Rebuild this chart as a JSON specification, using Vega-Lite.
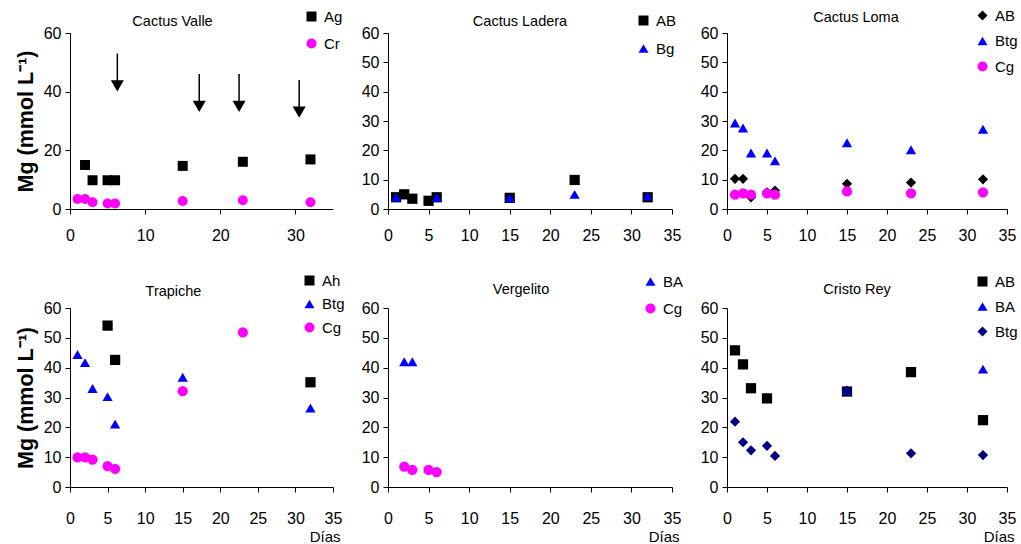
{
  "$schema": "https://vega.github.io/schema/vega-lite/v6.json",
  "background": "white",
  "padding": {"left": 15, "top": 8, "right": 5, "bottom": 0},
  "config": {
    "font": "Liberation Sans",
    "view": {"stroke": null},
    "axis": {"grid": false, "domainColor": "black", "tickColor": "black", "labelColor": "black", "labelFont": "Liberation Sans", "labelFontSize": 16, "tickSize": 5, "titleColor": "black", "titleFont": "Liberation Sans", "labelFlush": false, "labelOverlap": false},
    "axisY": {"labelPadding": 4},
    "title": {"font": "Liberation Sans", "fontSize": 14.5, "fontWeight": "normal", "color": "black", "frame": "group"},
    "legend": {"labelFont": "Liberation Sans", "labelFontSize": 15, "labelColor": "black", "padding": 0, "labelOffset": 5, "symbolSize": 100, "symbolStrokeWidth": 0}
  },
  "datasets": {
    "cv": [
      {"day": 2, "mg": 15.0, "series": "Ag"}, {"day": 3, "mg": 9.8, "series": "Ag"}, {"day": 5, "mg": 9.8, "series": "Ag"}, {"day": 6, "mg": 9.8, "series": "Ag"}, {"day": 15, "mg": 14.7, "series": "Ag"}, {"day": 23, "mg": 16.1, "series": "Ag"}, {"day": 32, "mg": 16.9, "series": "Ag"},
      {"day": 1, "mg": 3.4, "series": "Cr"}, {"day": 2, "mg": 3.4, "series": "Cr"}, {"day": 3, "mg": 2.3, "series": "Cr"}, {"day": 5, "mg": 1.9, "series": "Cr"}, {"day": 6, "mg": 1.9, "series": "Cr"}, {"day": 15, "mg": 2.7, "series": "Cr"}, {"day": 23, "mg": 3.0, "series": "Cr"}, {"day": 32, "mg": 2.3, "series": "Cr"}
    ],
    "arrows": [
      {"day": 6.3, "top": 53, "head": 42}, {"day": 17.2, "top": 46, "head": 35}, {"day": 22.5, "top": 46, "head": 35}, {"day": 30.5, "top": 44, "head": 33}
    ],
    "cl": [
      {"day": 1, "mg": 4.0, "series": "AB"}, {"day": 2, "mg": 5.0, "series": "AB"}, {"day": 3, "mg": 3.5, "series": "AB"}, {"day": 5, "mg": 2.8, "series": "AB"}, {"day": 6, "mg": 4.0, "series": "AB"}, {"day": 15, "mg": 3.8, "series": "AB"}, {"day": 23, "mg": 9.9, "series": "AB"}, {"day": 32, "mg": 4.0, "series": "AB"},
      {"day": 1, "mg": 4.0, "series": "Bg"}, {"day": 6, "mg": 4.0, "series": "Bg"}, {"day": 15, "mg": 3.8, "series": "Bg"}, {"day": 23, "mg": 5.0, "series": "Bg"}, {"day": 32, "mg": 4.4, "series": "Bg"}
    ],
    "clo": [
      {"day": 1, "mg": 10.3, "series": "AB"}, {"day": 2, "mg": 10.3, "series": "AB"}, {"day": 3, "mg": 4.0, "series": "AB"}, {"day": 5, "mg": 5.7, "series": "AB"}, {"day": 6, "mg": 6.3, "series": "AB"}, {"day": 15, "mg": 8.6, "series": "AB"}, {"day": 23, "mg": 9.0, "series": "AB"}, {"day": 32, "mg": 10.1, "series": "AB"},
      {"day": 1, "mg": 29.3, "series": "Btg"}, {"day": 2, "mg": 27.6, "series": "Btg"}, {"day": 3, "mg": 19.1, "series": "Btg"}, {"day": 5, "mg": 19.1, "series": "Btg"}, {"day": 6, "mg": 16.4, "series": "Btg"}, {"day": 15, "mg": 22.6, "series": "Btg"}, {"day": 23, "mg": 20.2, "series": "Btg"}, {"day": 32, "mg": 27.2, "series": "Btg"},
      {"day": 1, "mg": 4.9, "series": "Cg"}, {"day": 2, "mg": 5.3, "series": "Cg"}, {"day": 3, "mg": 4.9, "series": "Cg"}, {"day": 5, "mg": 5.3, "series": "Cg"}, {"day": 6, "mg": 4.9, "series": "Cg"}, {"day": 15, "mg": 6.0, "series": "Cg"}, {"day": 23, "mg": 5.3, "series": "Cg"}, {"day": 32, "mg": 5.7, "series": "Cg"}
    ],
    "tr": [
      {"day": 5, "mg": 54.1, "series": "Ah"}, {"day": 6, "mg": 42.6, "series": "Ah"}, {"day": 32, "mg": 35.1, "series": "Ah"},
      {"day": 1, "mg": 44.4, "series": "Btg"}, {"day": 2, "mg": 41.7, "series": "Btg"}, {"day": 3, "mg": 33.0, "series": "Btg"}, {"day": 5, "mg": 30.3, "series": "Btg"}, {"day": 6, "mg": 21.1, "series": "Btg"}, {"day": 15, "mg": 36.8, "series": "Btg"}, {"day": 32, "mg": 26.5, "series": "Btg"},
      {"day": 1, "mg": 9.9, "series": "Cg"}, {"day": 2, "mg": 9.9, "series": "Cg"}, {"day": 3, "mg": 9.2, "series": "Cg"}, {"day": 5, "mg": 7.0, "series": "Cg"}, {"day": 6, "mg": 6.1, "series": "Cg"}, {"day": 15, "mg": 32.1, "series": "Cg"}, {"day": 23, "mg": 51.8, "series": "Cg"}
    ],
    "ve": [
      {"day": 2, "mg": 42.0, "series": "BA"}, {"day": 3, "mg": 42.0, "series": "BA"},
      {"day": 2, "mg": 6.8, "series": "Cg"}, {"day": 3, "mg": 5.7, "series": "Cg"}, {"day": 5, "mg": 5.7, "series": "Cg"}, {"day": 6, "mg": 5.0, "series": "Cg"}
    ],
    "cr": [
      {"day": 1, "mg": 45.8, "series": "AB"}, {"day": 2, "mg": 41.1, "series": "AB"}, {"day": 3, "mg": 33.1, "series": "AB"}, {"day": 5, "mg": 29.7, "series": "AB"}, {"day": 15, "mg": 32.0, "series": "AB"}, {"day": 23, "mg": 38.5, "series": "AB"}, {"day": 32, "mg": 22.4, "series": "AB"},
      {"day": 15, "mg": 32.3, "series": "BA"}, {"day": 32, "mg": 39.5, "series": "BA"},
      {"day": 1, "mg": 21.9, "series": "Btg"}, {"day": 2, "mg": 15.0, "series": "Btg"}, {"day": 3, "mg": 12.3, "series": "Btg"}, {"day": 5, "mg": 13.8, "series": "Btg"}, {"day": 6, "mg": 10.4, "series": "Btg"}, {"day": 15, "mg": 32.3, "series": "Btg"}, {"day": 23, "mg": 11.3, "series": "Btg"}, {"day": 32, "mg": 10.7, "series": "Btg"}
    ]
  },
  "columns": 3,
  "align": "none",
  "bounds": "flush",
  "spacing": {"column": 55, "row": 99},
  "resolve": {
    "scale": {"color": "independent", "shape": "independent", "x": "independent", "y": "independent"},
    "legend": {"color": "independent", "shape": "independent"}
  },
  "concat": [
    {
      "width": 263, "height": 176,
      "title": {"text": "Cactus Valle", "dx": -29, "offset": -20},
      "layer": [
        {
          "data": {"name": "cv"},
          "mark": {"type": "point", "filled": true, "opacity": 1, "size": 100},
          "encoding": {
            "x": {"field": "day", "type": "quantitative", "scale": {"domain": [0, 35], "nice": false}, "axis": {"values": [0, 5, 10, 15, 20, 25, 30, 35], "title": null, "labelPadding": 13}},
            "y": {"field": "mg", "type": "quantitative", "scale": {"domain": [0, 60], "nice": false}, "axis": {"values": [0, 10, 20, 30, 40, 50, 60], "title": "Mg (mmol L⁻¹)", "titleFontSize": 21.5, "titleFontWeight": "bold", "titlePadding": 6}},
            "color": {"field": "series", "type": "nominal", "scale": {"domain": ["Ag", "Cr"], "range": ["#000000", "#ff00ff"]}, "legend": {"title": null, "orient": "none", "legendX": 234, "legendY": -24, "rowPadding": 11}},
            "shape": {"field": "series", "type": "nominal", "scale": {"domain": ["Ag", "Cr"], "range": ["square", "circle"]}, "legend": {"title": null, "orient": "none", "legendX": 234, "legendY": -24, "rowPadding": 11}}
          }
        },
        {
          "data": {"name": "arrows"},
          "mark": {"type": "rule", "color": "black", "strokeWidth": 1.5},
          "encoding": {
            "x": {"field": "day", "type": "quantitative", "scale": {"domain": [0, 35], "nice": false}},
            "y": {"field": "top", "type": "quantitative", "scale": {"domain": [0, 60], "nice": false}},
            "y2": {"field": "head"}
          }
        },
        {
          "data": {"name": "arrows"},
          "mark": {"type": "point", "shape": "triangle-down", "filled": true, "color": "black", "opacity": 1, "size": 170},
          "encoding": {
            "x": {"field": "day", "type": "quantitative", "scale": {"domain": [0, 35], "nice": false}},
            "y": {"field": "head", "type": "quantitative", "scale": {"domain": [0, 60], "nice": false}}
          }
        }
      ]
    },
    {
      "width": 284, "height": 176,
      "title": {"text": "Cactus Ladera", "dx": -10, "offset": -16},
      "data": {"name": "cl"},
      "mark": {"type": "point", "filled": true, "opacity": 1, "size": 105},
      "encoding": {
        "x": {"field": "day", "type": "quantitative", "scale": {"domain": [0, 35], "nice": false}, "axis": {"values": [0, 5, 10, 15, 20, 25, 30, 35], "title": null, "labelPadding": 13}},
        "y": {"field": "mg", "type": "quantitative", "scale": {"domain": [0, 60], "nice": false}, "axis": {"values": [0, 10, 20, 30, 40, 50, 60], "title": null}},
        "color": {"field": "series", "type": "nominal", "scale": {"domain": ["AB", "Bg"], "range": ["#000000", "#0000ff"]}, "legend": {"title": null, "orient": "none", "legendX": 248, "legendY": -20, "rowPadding": 12}},
        "shape": {"field": "series", "type": "nominal", "scale": {"domain": ["AB", "Bg"], "range": ["square", "triangle-up"]}, "legend": {"title": null, "orient": "none", "legendX": 248, "legendY": -20, "rowPadding": 12}}
      }
    },
    {
      "width": 280, "height": 176,
      "title": {"text": "Cactus Loma", "dx": -11, "offset": -17},
      "data": {"name": "clo"},
      "mark": {"type": "point", "filled": true, "opacity": 1, "size": 105},
      "encoding": {
        "x": {"field": "day", "type": "quantitative", "scale": {"domain": [0, 35], "nice": false}, "axis": {"values": [0, 5, 10, 15, 20, 25, 30, 35], "title": null, "labelPadding": 13}},
        "y": {"field": "mg", "type": "quantitative", "scale": {"domain": [0, 60], "nice": false}, "axis": {"values": [0, 10, 20, 30, 40, 50, 60], "title": null}},
        "color": {"field": "series", "type": "nominal", "scale": {"domain": ["AB", "Btg", "Cg"], "range": ["#000000", "#0000ff", "#ff00ff"]}, "legend": {"title": null, "orient": "none", "legendX": 248, "legendY": -25, "rowPadding": 9.5}},
        "shape": {"field": "series", "type": "nominal", "scale": {"domain": ["AB", "Btg", "Cg"], "range": ["diamond", "triangle-up", "circle"]}, "legend": {"title": null, "orient": "none", "legendX": 248, "legendY": -25, "rowPadding": 9.5}}
      }
    },
    {
      "width": 263, "height": 179,
      "title": {"text": "Trapiche", "dx": -28, "offset": -26},
      "data": {"name": "tr"},
      "mark": {"type": "point", "filled": true, "opacity": 1, "size": 105},
      "encoding": {
        "x": {"field": "day", "type": "quantitative", "scale": {"domain": [0, 35], "nice": false}, "axis": {"values": [0, 5, 10, 15, 20, 25, 30, 35], "labelPadding": 18, "title": "Días", "titleAnchor": "end", "titleAlign": "right", "titleX": 270, "titleFontSize": 15, "titleFontWeight": "normal", "titlePadding": 3}},
        "y": {"field": "mg", "type": "quantitative", "scale": {"domain": [0, 60], "nice": false}, "axis": {"values": [0, 10, 20, 30, 40, 50, 60], "title": "Mg (mmol L⁻¹)", "titleFontSize": 21.5, "titleFontWeight": "bold", "titlePadding": 6}},
        "color": {"field": "series", "type": "nominal", "scale": {"domain": ["Ah", "Btg", "Cg"], "range": ["#000000", "#0000ff", "#ff00ff"]}, "legend": {"title": null, "orient": "none", "legendX": 232, "legendY": -35, "rowPadding": 7.5}},
        "shape": {"field": "series", "type": "nominal", "scale": {"domain": ["Ah", "Btg", "Cg"], "range": ["square", "triangle-up", "circle"]}, "legend": {"title": null, "orient": "none", "legendX": 232, "legendY": -35, "rowPadding": 7.5}}
      }
    },
    {
      "width": 284, "height": 179,
      "title": {"text": "Vergelito", "dx": -9, "offset": -23},
      "data": {"name": "ve"},
      "mark": {"type": "point", "filled": true, "opacity": 1, "size": 105},
      "encoding": {
        "x": {"field": "day", "type": "quantitative", "scale": {"domain": [0, 35], "nice": false}, "axis": {"values": [0, 5, 10, 15, 20, 25, 30, 35], "labelPadding": 18, "title": "Días", "titleAnchor": "end", "titleAlign": "right", "titleX": 291, "titleFontSize": 15, "titleFontWeight": "normal", "titlePadding": 3}},
        "y": {"field": "mg", "type": "quantitative", "scale": {"domain": [0, 60], "nice": false}, "axis": {"values": [0, 10, 20, 30, 40, 50, 60], "title": null}},
        "color": {"field": "series", "type": "nominal", "scale": {"domain": ["BA", "Cg"], "range": ["#0000ff", "#ff00ff"]}, "legend": {"title": null, "orient": "none", "legendX": 255, "legendY": -34, "rowPadding": 11}},
        "shape": {"field": "series", "type": "nominal", "scale": {"domain": ["BA", "Cg"], "range": ["triangle-up", "circle"]}, "legend": {"title": null, "orient": "none", "legendX": 255, "legendY": -34, "rowPadding": 11}}
      }
    },
    {
      "width": 280, "height": 179,
      "title": {"text": "Cristo Rey", "dx": -10, "offset": -23},
      "data": {"name": "cr"},
      "mark": {"type": "point", "filled": true, "opacity": 1, "size": 105},
      "encoding": {
        "x": {"field": "day", "type": "quantitative", "scale": {"domain": [0, 35], "nice": false}, "axis": {"values": [0, 5, 10, 15, 20, 25, 30, 35], "labelPadding": 18, "title": "Días", "titleAnchor": "end", "titleAlign": "right", "titleX": 287, "titleFontSize": 15, "titleFontWeight": "normal", "titlePadding": 3}},
        "y": {"field": "mg", "type": "quantitative", "scale": {"domain": [0, 60], "nice": false}, "axis": {"values": [0, 10, 20, 30, 40, 50, 60], "title": null}},
        "color": {"field": "series", "type": "nominal", "scale": {"domain": ["AB", "BA", "Btg"], "range": ["#000000", "#0000ff", "#000080"]}, "legend": {"title": null, "orient": "none", "legendX": 248, "legendY": -34, "rowPadding": 9}},
        "shape": {"field": "series", "type": "nominal", "scale": {"domain": ["AB", "BA", "Btg"], "range": ["square", "triangle-up", "diamond"]}, "legend": {"title": null, "orient": "none", "legendX": 248, "legendY": -34, "rowPadding": 9}}
      }
    }
  ]
}
